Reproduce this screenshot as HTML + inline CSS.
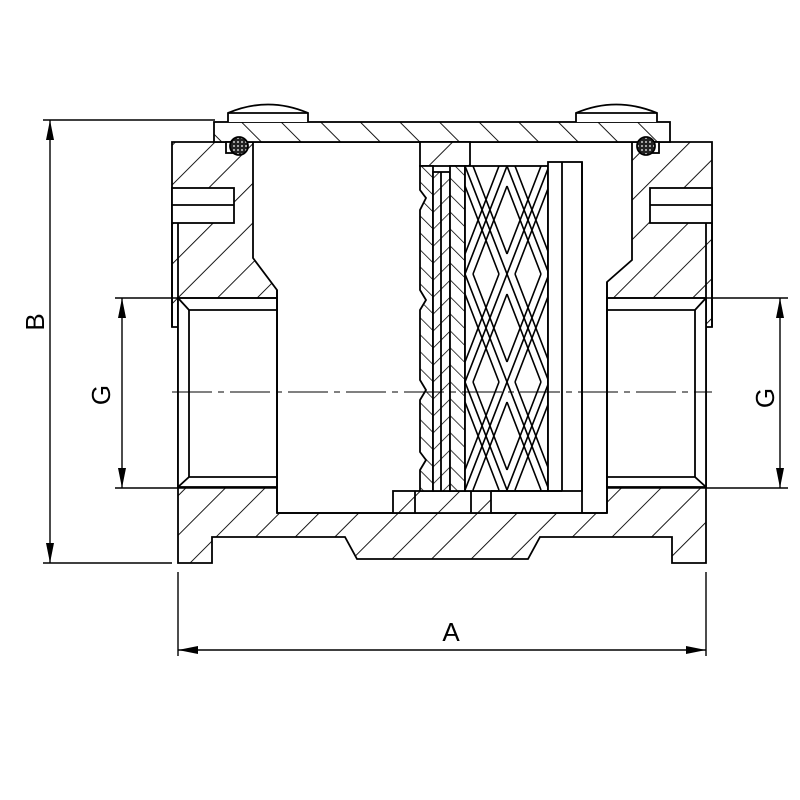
<!DOCTYPE html>
<html><head><meta charset="utf-8"><style>
html,body{margin:0;padding:0;background:#fff;}
svg{display:block;}
text{font-family:"Liberation Sans",sans-serif;font-size:26px;fill:#000;}
</style></head><body>
<svg width="800" height="800" viewBox="0 0 800 800" xmlns="http://www.w3.org/2000/svg">
<defs>
<pattern id="h1" patternUnits="userSpaceOnUse" width="28" height="28" patternTransform="rotate(45)">
<rect width="28" height="28" fill="#fff"/><line x1="0" y1="0" x2="0" y2="28" stroke="#000" stroke-width="1.8"/></pattern>
<pattern id="h2" patternUnits="userSpaceOnUse" width="28" height="28" patternTransform="rotate(-45)">
<rect width="28" height="28" fill="#fff"/><line x1="0" y1="0" x2="0" y2="28" stroke="#000" stroke-width="1.8"/></pattern>
<pattern id="h3" patternUnits="userSpaceOnUse" width="12" height="12" patternTransform="rotate(-45)">
<rect width="12" height="12" fill="#fff"/><line x1="0" y1="0" x2="0" y2="12" stroke="#000" stroke-width="1.5"/></pattern>
<pattern id="h4" patternUnits="userSpaceOnUse" width="12" height="12" patternTransform="rotate(45)">
<rect width="12" height="12" fill="#fff"/><line x1="0" y1="0" x2="0" y2="12" stroke="#000" stroke-width="1.5"/></pattern>
<pattern id="dots" patternUnits="userSpaceOnUse" width="4" height="4">
<rect width="4" height="4" fill="#222"/><circle cx="2" cy="2" r="0.9" fill="#fff"/></pattern>
<pattern id="mesh" patternUnits="userSpaceOnUse" x="465" y="166" width="42" height="108">
<rect width="42" height="108" fill="#fff"/>
<path d="M0 0 L42 108 M8 0 L42 88 M0 20 L34 108 M42 0 L0 108 M34 0 L0 88 M42 20 L8 108" fill="none" stroke="#000" stroke-width="1.6"/>
</pattern>
</defs>
<g stroke="#000" stroke-width="1.8" fill="none">
<polygon points="172,142 712,142 712,327 706,327 706,563 672,563 672,537 540,537 528,559 357,559 345,537 212,537 212,563 178,563 178,327 172,327" fill="url(#h1)"/>
<polygon points="253,142 632,142 632,260 607,282 607,513 277,513 277,290 253,258" fill="#fff"/>
<rect x="172" y="188" width="62" height="35" fill="#fff"/>
<line x1="172" y1="205" x2="234" y2="205"/>
<rect x="650" y="188" width="62" height="35" fill="#fff"/>
<line x1="650" y1="205" x2="712" y2="205"/>
<line x1="172" y1="223" x2="172" y2="327"/><line x1="178" y1="223" x2="178" y2="327"/>
<line x1="706" y1="223" x2="706" y2="327"/><line x1="712" y1="223" x2="712" y2="327"/>
<rect x="178" y="298" width="99" height="189" fill="#fff"/>
<polyline points="178,298 189,310 277,310"/><polyline points="178,487 189,477 277,477"/>
<line x1="189" y1="310" x2="189" y2="477"/>
<rect x="607" y="298" width="99" height="189" fill="#fff"/>
<polyline points="706,298 695,310 607,310"/><polyline points="706,487 695,477 607,477"/>
<line x1="695" y1="310" x2="695" y2="477"/>
<line x1="277" y1="290" x2="277" y2="513"/><line x1="607" y1="282" x2="607" y2="513"/>
<rect x="393" y="491" width="98" height="22" fill="url(#h1)"/>
<line x1="415" y1="491" x2="415" y2="513"/><line x1="471" y1="491" x2="471" y2="513"/>
<line x1="277" y1="513" x2="393" y2="513"/>
<rect x="214" y="122" width="456" height="20" fill="url(#h2)"/>
<path d="M228,122 L228,113 Q268,96 308,113 L308,122" fill="#fff"/>
<line x1="228" y1="113" x2="308" y2="113"/>
<path d="M576,122 L576,113 Q616,96 657,113 L657,122" fill="#fff"/>
<line x1="576" y1="113" x2="657" y2="113"/>
<rect x="226" y="142" width="18" height="11" fill="#fff"/>
<circle cx="239" cy="146" r="9" fill="url(#dots)"/>
<rect x="641" y="142" width="18" height="11" fill="#fff"/>
<circle cx="646" cy="146" r="9" fill="url(#dots)"/>
<rect x="420" y="142" width="50" height="24" fill="url(#h1)"/>
<polygon points="420,166 433,166 433,491 420,491 420,470 426,460 420,452 420,400 426,390 420,380 420,310 426,300 420,290 420,210 426,198 420,190" fill="url(#h3)"/>
<rect x="433" y="172" width="17" height="319" fill="url(#h4)"/>
<line x1="441" y1="172" x2="441" y2="491"/>
<rect x="450" y="166" width="15" height="325" fill="url(#h3)"/>
<rect x="465" y="166" width="83" height="325" fill="url(#mesh)"/>
<rect x="548" y="162" width="34" height="329" fill="#fff"/>
<line x1="562" y1="162" x2="562" y2="491"/>
<polyline points="491,491 562,491"/>
<polyline points="491,513 607,513"/>
<line x1="582" y1="162" x2="582" y2="513"/>
<line x1="172" y1="392" x2="712" y2="392" stroke-width="1" stroke-dasharray="40 6 6 6"/>
<g stroke-width="1.4">
<line x1="43" y1="120" x2="215" y2="120"/><line x1="43" y1="563" x2="172" y2="563"/>
<line x1="50" y1="120" x2="50" y2="563"/>
<line x1="115" y1="298" x2="277" y2="298"/><line x1="115" y1="488" x2="277" y2="488"/>
<line x1="122" y1="298" x2="122" y2="488"/>
<line x1="607" y1="298" x2="788" y2="298"/><line x1="607" y1="488" x2="788" y2="488"/>
<line x1="780" y1="298" x2="780" y2="488"/>
<line x1="178" y1="572" x2="178" y2="656"/><line x1="706" y1="572" x2="706" y2="656"/>
<line x1="178" y1="650" x2="706" y2="650"/>
</g>
</g>
<g fill="#000">
<polygon points="50,120 46,140 54,140"/><polygon points="50,563 46,543 54,543"/>
<polygon points="122,298 118,318 126,318"/><polygon points="122,488 118,468 126,468"/>
<polygon points="780,298 776,318 784,318"/><polygon points="780,488 776,468 784,468"/>
<polygon points="178,650 198,646 198,654"/><polygon points="706,650 686,646 686,654"/>
</g>
<text transform="translate(44,322) rotate(-90)" text-anchor="middle">B</text>
<text transform="translate(110,395) rotate(-90)" text-anchor="middle">G</text>
<text transform="translate(774,398) rotate(-90)" text-anchor="middle">G</text>
<text x="451" y="641" text-anchor="middle">A</text>
</svg>
</body></html>
